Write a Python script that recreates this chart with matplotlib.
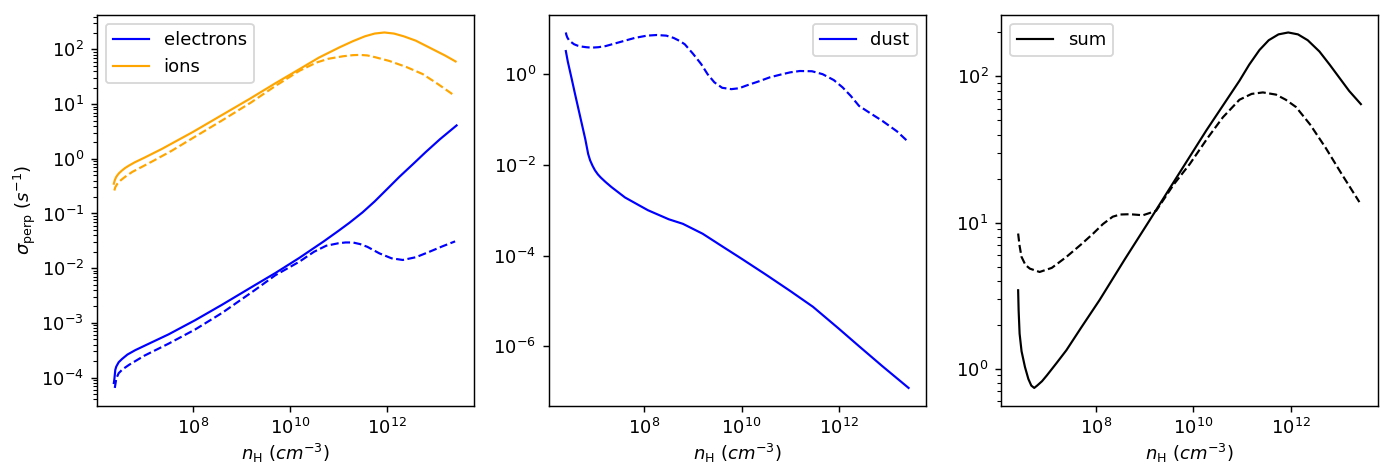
import numpy as np
import matplotlib
matplotlib.use("Agg")
import matplotlib.pyplot as plt
from matplotlib.ticker import LogLocator, NullLocator

# ---- data (log10 values) ----
# electrons, solid
el_x = [6.37, 6.38, 6.40, 6.42, 6.47, 6.54, 6.65, 6.81, 7.0, 7.5, 8.05, 8.6, 9.28, 9.7,
        10.2, 10.7, 11.0, 11.23, 11.5, 11.75, 12.0, 12.26, 12.55, 12.8, 13.1, 13.44]
el_y = [-4.10, -4.04, -3.86, -3.80, -3.72, -3.66, -3.58, -3.50, -3.42, -3.21, -2.95, -2.67,
        -2.31, -2.09, -1.81, -1.51, -1.32, -1.17, -0.98, -0.78, -0.56, -0.33, -0.09, 0.12,
        0.36, 0.61]
# electrons, dashed
eld_x = [6.39, 6.42, 6.47, 6.55, 6.68, 7.0, 7.5, 8.05, 8.6, 9.28, 9.7, 10.2, 10.5, 10.75,
         11.0, 11.15, 11.30, 11.45, 11.6, 11.85, 12.1, 12.33, 12.6, 12.88, 13.15, 13.41]
eld_y = [-4.19, -4.02, -3.92, -3.85, -3.77, -3.60, -3.38, -3.12, -2.82, -2.40, -2.13, -1.88,
         -1.70, -1.59, -1.545, -1.53, -1.53, -1.56, -1.61, -1.73, -1.82, -1.85, -1.80, -1.70,
         -1.60, -1.51]
# ions, solid
ion_x = [6.37, 6.39, 6.42, 6.47, 6.53, 6.60, 6.68, 6.8, 7.0, 7.36, 8.0, 8.6, 9.18, 9.7,
         10.2, 10.6, 11.03, 11.3, 11.55, 11.75, 11.95, 12.15, 12.35, 12.6, 12.8, 13.0, 13.2,
         13.42]
ion_y = [-0.455, -0.39, -0.33, -0.27, -0.22, -0.17, -0.125, -0.065, 0.02, 0.18, 0.49, 0.80,
         1.10, 1.38, 1.64, 1.85, 2.04, 2.15, 2.24, 2.29, 2.31, 2.29, 2.24, 2.16, 2.07, 1.98,
         1.89, 1.78]
# ions, dashed
iond_x = [6.38, 6.40, 6.44, 6.51, 6.58, 6.65, 6.75, 6.88, 7.2, 7.57, 8.0, 8.6, 9.2, 9.7,
          10.2, 10.55, 10.8, 11.10, 11.3, 11.44, 11.6, 11.75, 12.05, 12.4, 12.74, 13.05, 13.39]
iond_y = [-0.58, -0.52, -0.46, -0.395, -0.345, -0.30, -0.24, -0.18, -0.03, 0.15, 0.38, 0.70,
          1.03, 1.33, 1.61, 1.76, 1.83, 1.875, 1.895, 1.90, 1.89, 1.86, 1.79, 1.68, 1.55,
          1.37, 1.16]
# dust, solid
dust_x = [6.38, 6.42, 6.50, 6.57, 6.64, 6.71, 6.78, 6.84, 6.88, 6.93, 6.98, 7.04, 7.10,
          7.2, 7.32, 7.6, 8.07, 8.5, 8.79, 9.2, 9.62, 10.0, 10.5, 11.0, 11.47, 12.0, 12.42,
          12.9, 13.44]
dust_y = [0.51, 0.28, -0.10, -0.44, -0.77, -1.10, -1.43, -1.76, -1.90, -2.02, -2.12, -2.21,
          -2.28, -2.38, -2.49, -2.72, -3.00, -3.20, -3.30, -3.52, -3.81, -4.07, -4.42, -4.78,
          -5.13, -5.61, -6.00, -6.44, -6.92]
# dust, dashed
dustd_x = [6.38, 6.39, 6.41, 6.45, 6.50, 6.55, 6.62, 6.70, 6.80, 6.91, 7.05, 7.2, 7.5, 7.8,
           8.05, 8.25, 8.45, 8.6, 8.73, 8.83, 9.0, 9.17, 9.30, 9.44, 9.6, 9.79, 9.95, 10.1,
           10.35, 10.58, 10.8, 11.0, 11.2, 11.45, 11.67, 11.9, 12.08, 12.25, 12.42, 12.65,
           12.9, 13.2, 13.44]
dustd_y = [0.92, 0.87, 0.81, 0.74, 0.70, 0.66, 0.63, 0.61, 0.595, 0.585, 0.595, 0.62, 0.71,
           0.80, 0.85, 0.864, 0.85, 0.80, 0.73, 0.66, 0.45, 0.22, 0.00, -0.18, -0.30, -0.33,
           -0.31, -0.25, -0.16, -0.07, -0.01, 0.04, 0.07, 0.065, 0.00, -0.13, -0.29, -0.48,
           -0.70, -0.86, -1.03, -1.26, -1.50]
# sum, solid
sum_x = [6.41, 6.42, 6.44, 6.48, 6.55, 6.62, 6.68, 6.74, 6.80, 6.9, 7.0, 7.2, 7.40, 7.7,
         8.08, 8.6, 9.106, 9.58, 10.27, 10.95, 11.15, 11.36, 11.55, 11.75, 11.95, 12.15,
         12.35, 12.59, 12.8, 13.0, 13.2, 13.44]
sum_y = [0.537, 0.40, 0.24, 0.12, 0.012, -0.07, -0.115, -0.131, -0.115, -0.085, -0.045, 0.04,
         0.127, 0.28, 0.47, 0.75, 1.015, 1.266, 1.63, 1.97, 2.08, 2.18, 2.247, 2.287, 2.30,
         2.287, 2.247, 2.17, 2.08, 1.99, 1.90, 1.81]
# sum, dashed
sumd_x = [6.41, 6.44, 6.48, 6.56, 6.65, 6.85, 7.1, 7.40, 7.7, 7.95, 8.15, 8.35, 8.5, 8.70,
          8.97, 9.24, 9.38, 9.6, 9.93, 10.3, 10.61, 10.95, 11.2, 11.43, 11.7, 11.9, 12.11,
          12.4, 12.72, 13.05, 13.41]
sumd_y = [0.925, 0.84, 0.765, 0.71, 0.685, 0.662, 0.69, 0.765, 0.85, 0.925, 0.99, 1.04,
          1.055, 1.057, 1.05, 1.08, 1.15, 1.26, 1.40, 1.58, 1.72, 1.84, 1.88, 1.89, 1.875,
          1.84, 1.79, 1.67, 1.51, 1.33, 1.14]


def p(v):
    return 10.0 ** np.asarray(v)


W, H = 1387, 467
DPI = 130
fig = plt.figure(figsize=(W / DPI, H / DPI), dpi=DPI)
bottom = 1 - 405.7 / H
height = (405.7 - 14.7) / H
width = 377 / W
lefts = [96.7 / W, 548.7 / W, 1001 / W]
axs = [fig.add_axes([l, bottom, width, height]) for l in lefts]

xlabel = r'$n_{\rm H}$ $(cm^{-3})$'
LW = 1.2

ax = axs[0]
ax.plot(p(el_x), p(el_y), color='blue', lw=LW, label='electrons')
ax.plot(p(eld_x), p(eld_y), color='blue', lw=LW, ls='--')
ax.plot(p(ion_x), p(ion_y), color='orange', lw=LW, label='ions')
ax.plot(p(iond_x), p(iond_y), color='orange', lw=LW, ls='--')
ax.set_xscale('log')
ax.set_yscale('log')
ax.set_ylabel(r'$\sigma_{\rm perp}$ $(s^{-1})$', labelpad=2)
ax.set_xlabel(xlabel, labelpad=2)
ax.legend(loc='upper left')

ax = axs[1]
ax.plot(p(dust_x), p(dust_y), color='blue', lw=LW, label='dust')
ax.plot(p(dustd_x), p(dustd_y), color='blue', lw=LW, ls='--')
ax.set_xscale('log')
ax.set_yscale('log')
ax.yaxis.set_major_locator(LogLocator(base=10, numticks=6))
ax.yaxis.set_minor_locator(NullLocator())
ax.set_xlabel(xlabel, labelpad=2)
ax.legend(loc='upper right')

ax = axs[2]
ax.plot(p(sum_x), p(sum_y), color='black', lw=LW, label='sum')
ax.plot(p(sumd_x), p(sumd_y), color='black', lw=LW, ls='--')
ax.set_xscale('log')
ax.set_yscale('log')
ax.set_xlabel(xlabel, labelpad=2)
ax.legend(loc='upper left')

fig.savefig('out.png', dpi=DPI)
